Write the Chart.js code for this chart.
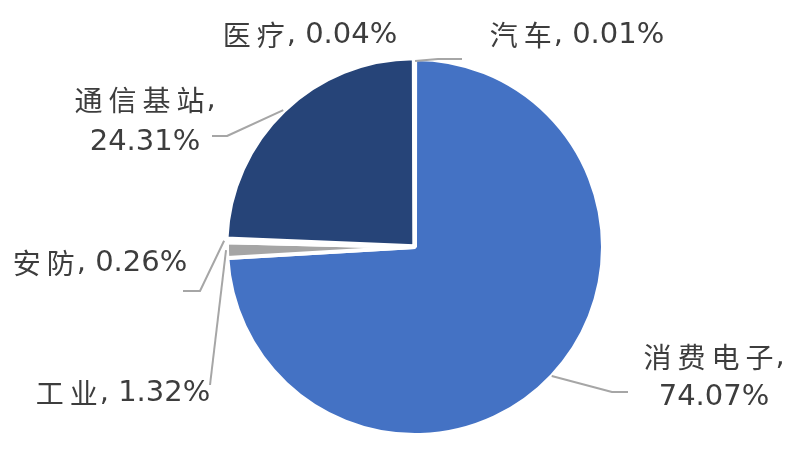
<!DOCTYPE html>
<html><head><meta charset="utf-8">
<script src="https://cdn.jsdelivr.net/npm/chart.js@4.4.0/dist/chart.umd.min.js"></script>
<style>html,body{margin:0;padding:0;background:#fff}#wrap{width:800px;height:458px;position:relative}</style>
</head><body><div id="wrap"><canvas id="c"></canvas></div>
<script>
// ---- data ----
const categories = ['汽车', '消费电子', '工业', '安防', '通信基站', '医疗'];
const shares = [0.01, 74.07, 1.32, 0.26, 24.31, 0.04];

// ---- style ----
const sliceColors = ['#4472C4', '#4472C4', '#A5A5A5', '#A5A5A5', '#264478', '#264478'];
const sliceOffsets = [0, 0, 0, 0, 4, 0];
const BORDER = 4;
const latinFont = '29px "DejaVu Sans", "Liberation Sans", sans-serif';
const cjkFont = '28px "Noto Sans CJK SC", sans-serif';
const cjkSpacing = 6;
const textColor = '#3d3d3d';
const leaderColor = '#A6A6A6';

// label layout relative to pie centre (pixels)
const labelLayout = [
  {dx: 162, dy: -212, wrap: false, lh: 40, gap: 0, leader: [[23, -188], [47, -188]]},
  {dx: 299, dy: 130, wrap: true, lh: 40, gap: 2, leader: [[197, 145], [213, 145]]},
  {dx: -292, dy: 146, wrap: false, lh: 40, gap: 3, leader: [[-205, 138]]},
  {dx: -315, dy: 16, wrap: false, lh: 40, gap: 5, leader: [[-215, 44], [-232, 44]]},
  {dx: -270, dy: -126, wrap: true, lh: 42, gap: 0, leader: [[-188, -111], [-203, -111]]},
  {dx: -105, dy: -212, wrap: false, lh: 40, gap: 0, leader: null}
];

function isCJK(ch) { return /[\u3000-\u9fff\uff00-\uffef]/.test(ch); }

function drawMixed(ctx, str, cx, cy) {
  const chars = Array.from(str);
  const widths = chars.map((ch, i) => {
    if (isCJK(ch)) {
      ctx.font = cjkFont;
      const nextCJK = i + 1 < chars.length && isCJK(chars[i + 1]);
      return ctx.measureText(ch).width + (nextCJK ? cjkSpacing : 2);
    }
    ctx.font = latinFont; return ctx.measureText(ch).width;
  });
  const total = widths.reduce((a, b) => a + b, 0);
  let x = cx - total / 2;
  chars.forEach((ch, i) => {
    ctx.font = isCJK(ch) ? cjkFont : latinFont;
    ctx.fillText(ch, x, cy);
    x += widths[i];
  });
}

const labelPlugin = {
  id: 'pieLabels',
  afterDatasetsDraw(chart) {
    const ctx = chart.ctx;
    const meta = chart.getDatasetMeta(0);
    ctx.save();
    meta.data.forEach((arc, i) => {
      const L = labelLayout[i];
      const cx = arc.x, cy = arc.y;
      const mid = (arc.startAngle + arc.endAngle) / 2;
      const off = arc.options.offset || 0;
      const r = arc.outerRadius - BORDER / 2 + off + L.gap;
      if (L.leader) {
        ctx.beginPath();
        ctx.strokeStyle = leaderColor;
        ctx.lineWidth = 2;
        ctx.lineJoin = 'round';
        ctx.moveTo(cx + Math.cos(mid) * r, cy + Math.sin(mid) * r);
        L.leader.forEach(p => ctx.lineTo(cx + p[0], cy + p[1]));
        ctx.stroke();
      }
      const value = shares[i].toFixed(2) + '%';
      const lines = L.wrap ? [categories[i] + ',', value] : [categories[i] + ', ' + value];
      ctx.fillStyle = textColor;
      ctx.textBaseline = 'middle';
      ctx.textAlign = 'left';
      const startY = cy + L.dy - (lines.length - 1) * L.lh / 2;
      lines.forEach((t, k) => drawMixed(ctx, t, cx + L.dx, startY + k * L.lh));
    });
    ctx.restore();
  }
};

new Chart(document.getElementById('c'), {
  type: 'pie',
  data: {
    labels: categories,
    datasets: [{
      data: shares,
      backgroundColor: sliceColors,
      borderColor: '#ffffff',
      borderWidth: BORDER,
      offset: sliceOffsets,
      hoverOffset: 0,
      radius: 188
    }]
  },
  options: {
    responsive: true,
    maintainAspectRatio: false,
    animation: false,
    events: [],
    layout: {padding: {left: 30, top: 36, right: 0, bottom: 0}},
    plugins: {legend: {display: false}, tooltip: {enabled: false}}
  },
  plugins: [labelPlugin]
});
</script>
</body></html>
